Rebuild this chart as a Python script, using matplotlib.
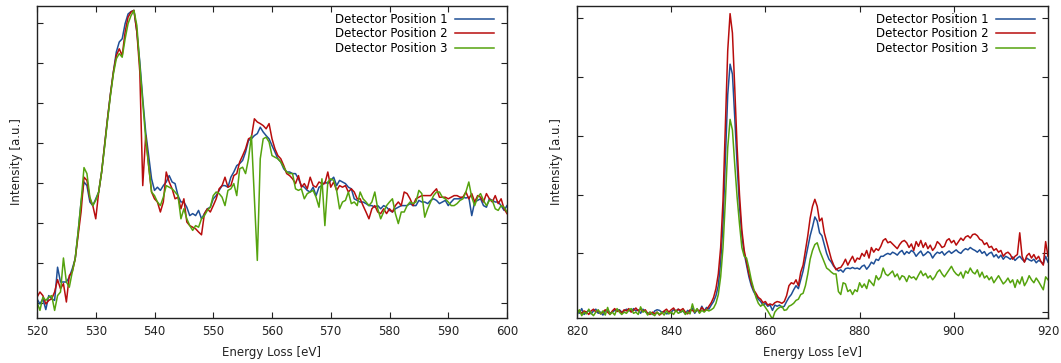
import numpy as np
import matplotlib
matplotlib.use("Agg")
import matplotlib.pyplot as plt

# O K-edge region, 0.5 eV steps from 520 to 600 eV (arbitrary intensity units)
o_energy = np.arange(520.0, 600.01, 0.5)

o_det1 = [
    0.10, -0.03, 0.10, -0.17, 0.18, 0.10, 0.06, 0.89, 0.52, 0.52,
    0.52, 0.64, 0.85, 1.10, 1.77, 2.52, 3.02, 2.93, 2.52, 2.43,
    2.60, 2.77, 3.27, 3.93, 4.60, 5.22, 5.77, 6.27, 6.52, 6.60,
    6.98, 7.22, 7.28, 7.31, 6.77, 6.02, 5.10, 4.27, 3.68, 3.10,
    2.81, 2.89, 2.81, 2.93, 3.02, 3.18, 3.02, 2.98, 2.68, 2.52,
    2.52, 2.39, 2.18, 2.23, 2.18, 2.31, 2.10, 2.23, 2.35, 2.39,
    2.60, 2.68, 2.81, 2.93, 2.93, 2.89, 3.14, 3.27, 3.43, 3.48,
    3.56, 3.77, 4.06, 4.10, 4.18, 4.23, 4.39, 4.27, 4.18, 4.10,
    3.93, 3.77, 3.60, 3.52, 3.35, 3.27, 3.27, 3.23, 3.23, 3.10,
    2.93, 2.89, 2.81, 2.77, 2.89, 2.68, 2.89, 2.93, 3.02, 2.98,
    3.06, 3.14, 2.93, 3.06, 3.02, 2.98, 2.89, 2.85, 2.60, 2.56,
    2.52, 2.52, 2.48, 2.43, 2.43, 2.39, 2.43, 2.35, 2.43, 2.39,
    2.31, 2.27, 2.35, 2.39, 2.43, 2.43, 2.43, 2.48, 2.43, 2.43,
    2.56, 2.52, 2.52, 2.48, 2.56, 2.60, 2.56, 2.48, 2.52, 2.56,
    2.43, 2.52, 2.60, 2.60, 2.60, 2.64, 2.62, 2.64, 2.18, 2.52,
    2.56, 2.60, 2.43, 2.39, 2.60, 2.56, 2.52, 2.52, 2.43, 2.31,
    2.43,
]
o_det2 = [
    0.14, 0.27, 0.18, -0.03, 0.06, 0.10, 0.27, 0.58, 0.35, 0.48,
    0.02, 0.68, 0.77, 1.10, 1.68, 2.27, 3.14, 3.06, 2.60, 2.43,
    2.10, 2.77, 3.27, 3.93, 4.60, 5.22, 5.77, 6.18, 6.35, 6.18,
    6.77, 7.14, 7.27, 7.31, 6.77, 5.77, 2.93, 4.18, 3.43, 2.77,
    2.60, 2.52, 2.27, 2.52, 3.27, 3.02, 2.85, 2.60, 2.64, 2.35,
    2.60, 2.02, 1.93, 1.89, 1.85, 1.77, 1.70, 2.23, 2.35, 2.27,
    2.43, 2.60, 2.85, 2.93, 3.14, 2.89, 2.93, 3.18, 3.23, 3.52,
    3.68, 3.85, 4.10, 4.14, 4.60, 4.52, 4.48, 4.43, 4.35, 4.48,
    4.10, 3.85, 3.68, 3.60, 3.43, 3.23, 3.18, 3.10, 2.98, 3.18,
    2.89, 2.98, 2.85, 3.14, 2.93, 2.89, 3.02, 2.98, 2.98, 3.27,
    2.89, 3.02, 2.81, 2.93, 2.89, 2.93, 2.77, 2.85, 2.77, 2.60,
    2.60, 2.43, 2.27, 2.10, 2.35, 2.43, 2.27, 2.23, 2.35, 2.23,
    2.35, 2.27, 2.43, 2.52, 2.43, 2.77, 2.73, 2.60, 2.43, 2.60,
    2.64, 2.68, 2.68, 2.68, 2.68, 2.77, 2.85, 2.64, 2.64, 2.64,
    2.60, 2.64, 2.68, 2.68, 2.64, 2.64, 2.77, 2.60, 2.73, 2.52,
    2.68, 2.64, 2.52, 2.73, 2.60, 2.52, 2.68, 2.48, 2.60, 2.35,
    2.23,
]
o_det3 = [
    0.02, -0.19, 0.14, 0.06, 0.14, 0.18, -0.19, 0.18, 0.27, 1.12,
    0.52, 0.39, 0.77, 1.10, 1.77, 2.52, 3.38, 3.23, 2.64, 2.43,
    2.56, 2.77, 3.27, 3.89, 4.56, 5.18, 5.72, 6.10, 6.23, 6.14,
    6.60, 6.98, 7.18, 7.31, 6.93, 5.93, 5.02, 4.10, 3.43, 2.77,
    2.68, 2.52, 2.43, 2.64, 2.93, 2.89, 2.85, 2.77, 2.68, 2.10,
    2.35, 2.10, 1.93, 1.81, 1.93, 1.89, 2.10, 2.18, 2.31, 2.39,
    2.68, 2.77, 2.73, 2.64, 2.43, 2.81, 2.85, 2.98, 2.68, 3.35,
    3.39, 3.23, 3.60, 4.18, 2.60, 1.06, 3.60, 4.10, 4.14, 4.02,
    3.68, 3.64, 3.60, 3.52, 3.39, 3.27, 3.23, 3.23, 2.85, 2.81,
    2.85, 2.60, 2.73, 2.77, 2.81, 2.64, 2.39, 3.10, 1.93, 3.02,
    3.10, 3.06, 2.81, 2.35, 2.52, 2.56, 2.77, 2.48, 2.52, 2.43,
    2.77, 2.60, 2.52, 2.43, 2.52, 2.77, 2.35, 2.10, 2.27, 2.43,
    2.52, 2.60, 2.23, 1.98, 2.27, 2.27, 2.43, 2.52, 2.48, 2.52,
    2.81, 2.73, 2.14, 2.35, 2.52, 2.68, 2.77, 2.77, 2.64, 2.60,
    2.52, 2.43, 2.43, 2.48, 2.56, 2.60, 2.77, 3.02, 2.64, 2.43,
    2.64, 2.73, 2.56, 2.43, 2.56, 2.56, 2.35, 2.31, 2.43, 2.39,
    2.27,
]

# Ni L-edge region, 0.5 eV steps from 820 to 920 eV
ni_energy = np.arange(820.0, 920.01, 0.5)

ni_det1 = [
    0.02, -0.02, 0.06, -0.04, 0.00, 0.03, -0.03, 0.02, 0.05, -0.02,
    0.00, -0.05, 0.02, 0.04, -0.02, 0.00, 0.03, 0.03, 0.04, 0.00,
    0.02, 0.05, 0.03, 0.01, 0.06, 0.02, 0.04, -0.02, 0.05, 0.01,
    -0.03, 0.00, -0.04, 0.02, 0.04, 0.03, 0.00, 0.01, -0.03, -0.02,
    0.00, 0.04, 0.02, 0.05, 0.00, 0.02, -0.03, 0.03, 0.00, 0.07,
    -0.02, 0.04, 0.00, 0.10, 0.02, 0.08, 0.05, 0.12, 0.18, 0.28,
    0.45, 0.85, 1.50, 2.60, 3.70, 4.22, 4.05, 3.30, 2.50, 1.80,
    1.30, 1.00, 0.80, 0.60, 0.45, 0.35, 0.28, 0.22, 0.18, 0.12,
    0.15, 0.10, 0.12, 0.03, 0.12, 0.10, 0.12, 0.08, 0.10, 0.18,
    0.25, 0.30, 0.38, 0.45, 0.40, 0.55, 0.70, 0.90, 1.10, 1.30,
    1.45, 1.62, 1.55, 1.35, 1.30, 1.15, 1.00, 0.90, 0.85, 0.78,
    0.74, 0.70, 0.72, 0.68, 0.74, 0.75, 0.74, 0.76, 0.74, 0.75,
    0.73, 0.78, 0.80, 0.73, 0.78, 0.85, 0.82, 0.90, 0.88, 0.95,
    0.95, 0.98, 1.00, 0.98, 1.02, 1.00, 0.97, 1.02, 1.05, 0.98,
    1.03, 1.00, 1.05, 1.02, 0.95, 1.00, 1.04, 0.96, 0.99, 1.03,
    1.00, 0.92, 0.98, 1.02, 1.00, 1.03, 0.97, 1.01, 1.04, 1.00,
    1.03, 1.06, 1.02, 1.00, 1.05, 1.08, 1.06, 1.10, 1.07, 1.05,
    1.02, 1.06, 1.00, 1.03, 0.96, 1.00, 1.02, 0.94, 0.98, 0.92,
    0.97, 0.90, 0.95, 0.93, 0.90, 0.94, 0.88, 0.92, 0.95, 0.90,
    0.86, 0.92, 0.89, 0.87, 0.90, 0.84, 0.88, 0.86, 0.82, 0.95,
    0.85,
]
ni_det2 = [
    0.00, 0.03, -0.03, 0.02, 0.00, -0.04, 0.02, 0.05, 0.00, 0.03,
    -0.03, 0.00, 0.04, 0.00, -0.04, 0.02, 0.06, 0.01, 0.03, -0.02,
    0.04, 0.02, 0.06, 0.00, 0.03, 0.07, 0.02, 0.05, 0.01, 0.04,
    -0.02, -0.04, 0.00, -0.03, 0.00, -0.05, -0.02, 0.02, 0.05, 0.00,
    0.04, 0.07, 0.01, 0.05, 0.03, 0.06, 0.00, -0.03, 0.04, 0.03,
    0.00, 0.05, 0.01, 0.08, 0.03, 0.04, 0.10, 0.16, 0.25, 0.40,
    0.65, 1.10, 1.90, 3.20, 4.45, 5.08, 4.75, 3.80, 2.80, 2.00,
    1.40, 1.05, 0.85, 0.65, 0.50, 0.38, 0.32, 0.25, 0.22, 0.16,
    0.18, 0.12, 0.14, 0.12, 0.16, 0.18, 0.17, 0.15, 0.18, 0.28,
    0.45, 0.50, 0.48, 0.55, 0.45, 0.68, 0.80, 1.05, 1.30, 1.60,
    1.80, 1.92, 1.80, 1.55, 1.60, 1.35, 1.20, 1.05, 0.90, 0.80,
    0.72, 0.75, 0.76, 0.82, 0.90, 0.80, 0.88, 0.95, 0.85, 0.92,
    0.90, 1.00, 0.95, 1.05, 0.92, 1.10, 1.02, 1.08, 1.05, 1.12,
    1.22, 1.25, 1.18, 1.20, 1.16, 1.12, 1.08, 1.15, 1.20, 1.22,
    1.18, 1.10, 1.16, 1.05, 1.20, 1.12, 1.22, 1.10, 1.18, 1.08,
    1.14, 1.05, 1.10, 1.20, 1.16, 1.10, 1.12, 1.22, 1.25, 1.18,
    1.22, 1.14, 1.20, 1.26, 1.22, 1.28, 1.30, 1.26, 1.32, 1.33,
    1.30, 1.24, 1.22, 1.15, 1.18, 1.10, 1.12, 1.05, 1.08, 1.02,
    1.05, 0.95, 1.00, 1.02, 0.98, 0.90, 0.95, 0.98, 1.35, 0.95,
    0.85, 0.96, 1.00, 0.92, 0.98, 0.90, 0.95, 0.86, 0.80, 1.20,
    0.95,
]
ni_det3 = [
    -0.05, 0.04, -0.06, 0.00, -0.03, 0.05, -0.02, -0.06, 0.00, 0.04,
    -0.03, 0.02, -0.05, 0.08, -0.04, 0.00, -0.05, 0.06, 0.00, -0.04,
    0.00, -0.02, 0.03, 0.06, -0.02, 0.00, -0.04, 0.09, 0.00, 0.02,
    -0.05, 0.00, -0.03, -0.06, 0.00, -0.04, 0.00, -0.05, 0.02, -0.03,
    0.00, -0.04, 0.03, -0.02, 0.00, 0.03, -0.04, 0.00, -0.03, 0.14,
    0.00, 0.06, -0.02, 0.03, 0.00, 0.04, 0.02, 0.04, 0.07, 0.15,
    0.30, 0.60, 1.10, 1.90, 2.80, 3.28, 3.10, 2.50, 1.95, 1.50,
    1.10, 0.95, 0.92, 0.75, 0.55, 0.40, 0.25, 0.15, 0.10, 0.14,
    0.08, 0.02, -0.05, -0.12, 0.00, 0.05, 0.08, 0.10, 0.03, 0.04,
    0.10, 0.12, 0.15, 0.20, 0.22, 0.30, 0.32, 0.45, 0.65, 0.90,
    1.05, 1.15, 1.18, 1.05, 0.95, 0.85, 0.75, 0.72, 0.68, 0.65,
    0.65, 0.35, 0.30, 0.50, 0.48, 0.35, 0.38, 0.30, 0.38, 0.35,
    0.50, 0.42, 0.48, 0.40, 0.55, 0.50, 0.45, 0.62, 0.55, 0.60,
    0.75, 0.65, 0.62, 0.66, 0.70, 0.60, 0.65, 0.55, 0.62, 0.60,
    0.52, 0.62, 0.58, 0.60, 0.55, 0.63, 0.70, 0.62, 0.66, 0.58,
    0.62, 0.55, 0.60, 0.68, 0.72, 0.65, 0.60, 0.66, 0.72, 0.78,
    0.70, 0.65, 0.62, 0.68, 0.58, 0.70, 0.66, 0.75, 0.68, 0.65,
    0.72, 0.60, 0.68, 0.58, 0.62, 0.55, 0.60, 0.50, 0.56, 0.62,
    0.55, 0.48, 0.52, 0.58, 0.50, 0.55, 0.42, 0.55, 0.48, 0.60,
    0.45, 0.52, 0.62, 0.55, 0.50, 0.58, 0.52, 0.45, 0.38, 0.60,
    0.55,
]

labels = ["Detector Position 1", "Detector Position 2", "Detector Position 3"]
colors = ["#1f4f96", "#b80d0d", "#55a30e"]

plt.rcParams["font.family"] = "DejaVu Sans"
plt.rcParams["font.size"] = 8

fig = plt.figure(figsize=(10.61, 3.63), dpi=100)
ax1 = fig.add_axes([37 / 1061, 45 / 363, 470 / 1061, 312 / 363])
ax2 = fig.add_axes([577 / 1061, 45 / 363, 471 / 1061, 312 / 363])

panels = [
    (ax1, o_energy, [o_det1, o_det2, o_det3], (520, 600), np.arange(520, 601, 10), (-0.38, 7.42), range(0, 8)),
    (ax2, ni_energy, [ni_det1, ni_det2, ni_det3], (820, 920), np.arange(820, 921, 20), (-0.1, 5.21), range(0, 6)),
]

for ax, x, series, xlim, xticks, ylim, yticks in panels:
    for y, lab, c in zip(series, labels, colors):
        ax.plot(x, y, color=c, linewidth=1.1, label=lab)
    ax.set_xlim(*xlim)
    ax.set_ylim(*ylim)
    ax.set_xticks(xticks)
    ax.set_yticks(list(yticks))
    ax.set_yticklabels([])
    ax.tick_params(direction="in", length=4, width=0.8, top=True, right=True,
                   labelsize=8.5, pad=5, colors="#222222")
    for sp in ax.spines.values():
        sp.set_linewidth(1.0)
        sp.set_color("#222222")
    ax.set_xlabel("Energy Loss [eV]", fontsize=8.5, labelpad=6, color="#222222")
    ax.set_ylabel("Intensity [a.u.]", fontsize=8.5, labelpad=5, color="#222222")
    ax.legend(loc="upper right", bbox_to_anchor=(1 - 13 / 470, 1 - 7 / 312),
              frameon=False, markerfirst=False, borderpad=0, borderaxespad=0,
              handlelength=3.3, handletextpad=0.6, labelspacing=0.12, fontsize=8.5)

fig.savefig("out.png", dpi=100)
